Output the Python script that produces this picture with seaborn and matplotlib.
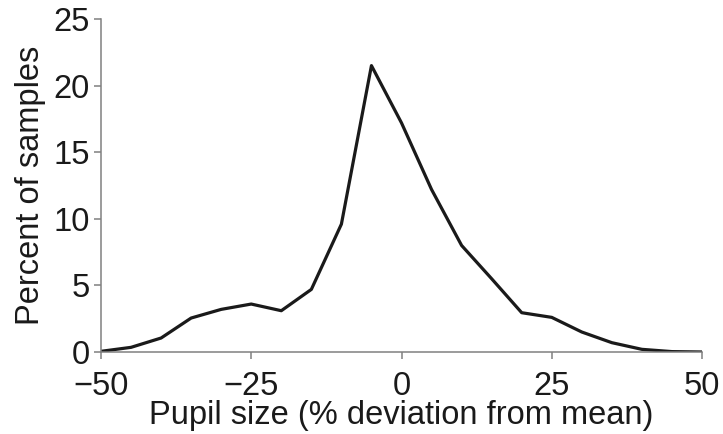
import matplotlib
matplotlib.use("Agg")

import pandas as pd
import matplotlib.pyplot as plt
import seaborn as sns


# pupil size deviation bins (% from mean) and share of samples in each
deviation = [-50, -45, -40, -35, -30, -25, -20, -15, -10, -5, 0,
             5, 10, 15, 20, 25, 30, 35, 40, 45, 50]
percent = [0.05, 0.35, 1.05, 2.55, 3.2, 3.6, 3.1, 4.7, 9.6, 21.5, 17.2,
           12.2, 8.0, 5.5, 2.95, 2.6, 1.5, 0.7, 0.2, 0.03, 0.0]
x_ticks = [-50, -25, 0, 25, 50]
x_tick_labels = ["\u221250", "\u221225", "0", "25", "50"]
y_ticks = [0, 5, 10, 15, 20, 25]

df = pd.DataFrame({"deviation": deviation, "percent": percent})

sns.set_theme(style="ticks")
plt.rcParams["font.family"] = ["Liberation Sans", "DejaVu Sans"]

fig = plt.figure(figsize=(7.23, 4.34), dpi=100)
ax = fig.add_axes([101 / 723, 1 - 352 / 434, 601 / 723, 333 / 434])

sns.lineplot(data=df, x="deviation", y="percent", color="#1a1a1a",
             linewidth=2.3, ax=ax)

ax.set_xlim(-50, 50)
ax.set_ylim(0, 25)
ax.set_xticks(x_ticks)
ax.set_xticklabels(x_tick_labels)
ax.set_yticks(y_ticks)
ax.tick_params(axis="both", labelsize=23.5, length=5, width=1.1,
               color="#808080", labelcolor="#1a1a1a")
ax.tick_params(axis="x", pad=9)
ax.tick_params(axis="y", pad=3)
ax.set_xlabel("Pupil size (% deviation from mean)", fontsize=23.5,
              color="#1a1a1a", labelpad=-2)
ax.set_ylabel("Percent of samples", fontsize=23.5, color="#1a1a1a",
              labelpad=5)

for side in ["top", "right"]:
    ax.spines[side].set_visible(False)
for side in ["left", "bottom"]:
    ax.spines[side].set_color("#808080")
    ax.spines[side].set_linewidth(1.1)

fig.savefig("out.png", dpi=100)
